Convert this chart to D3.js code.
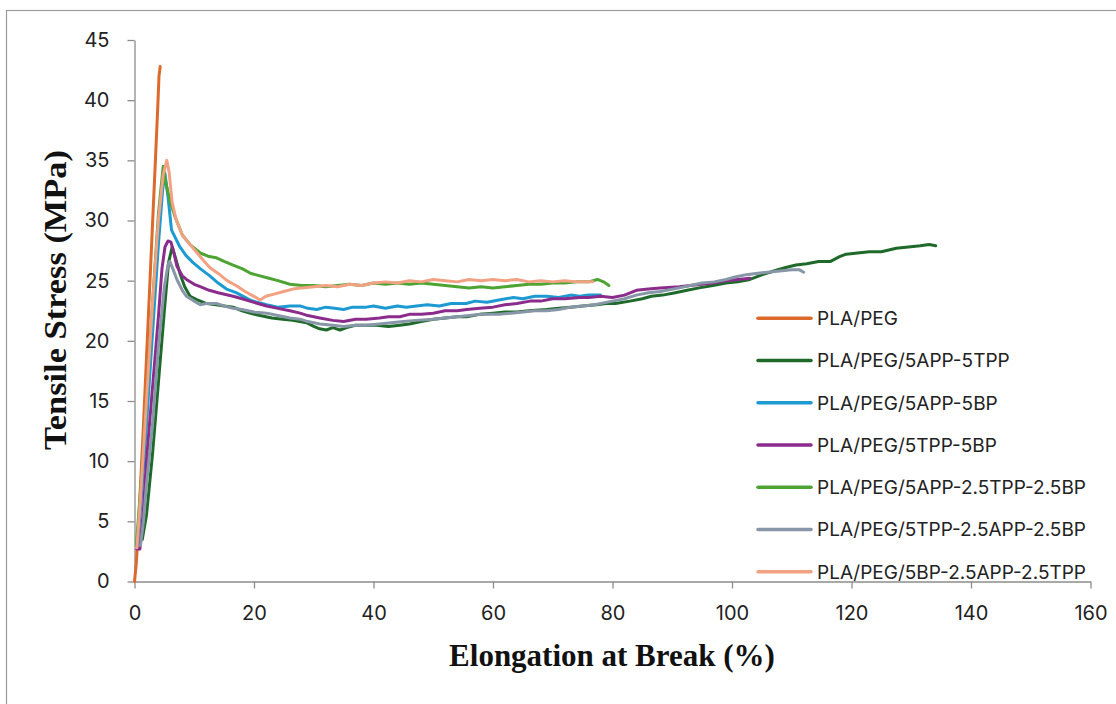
<!DOCTYPE html>
<html lang="en">
<head>
  <meta charset="UTF-8">
  <title>Tensile stress vs elongation</title>
  <script src="https://cdn.jsdelivr.net/npm/d3@7"></script>
  <style>
    html, body { margin: 0; padding: 0; background: #fff; }
    svg { display: block; }
  </style>
</head>
<body>
<div id="chart"></div>
<script>
  // series, [elongation %, stress MPa]
  const plaPeg = [[0,0],[0.3,1.5],[0.6,4],[1,8],[1.5,13],[2,18.5],[2.5,24],[3,29.5],[3.5,35],[3.9,39.5],[4.1,42],[4.3,42.8]]

  const app5Tpp5 = [[1.3,3.5],[2,5.5],[3,10.5],[4,16.5],[5,22.5],[5.7,26.5],[6.3,27.8],[6.8,27],[7.6,25.6],[8.4,24.5],[9.3,23.7],[10.5,23.4],[12.1,23.1],[13.7,23.0],[15,22.9],[16.5,22.8],[18,22.5],[19.3,22.3],[21,22.1],[23,21.9],[24.8,21.8],[26.5,21.7],[28.8,21.5],[30,21.2],[31,21.0],[32.1,20.9],[33.2,21.1],[34.4,20.9],[35.5,21.1],[37,21.3],[38.8,21.3],[40.5,21.3],[42.5,21.2],[44.4,21.3],[46,21.4],[48,21.6],[50,21.8],[52,21.9],[54,22.0],[55.6,22.0],[57.8,22.2],[60,22.3],[62,22.4],[64,22.4],[66,22.5],[69,22.6],[71,22.7],[73,22.8],[75,22.9],[77.3,23.0],[79,23.1],[80.5,23.1],[82.9,23.3],[85,23.5],[86.5,23.7],[88.4,23.8],[90.5,24.0],[92.5,24.2],[94.5,24.4],[96.8,24.6],[99,24.8],[101,24.9],[103,25.1],[105.1,25.5],[107,25.8],[109,26.1],[110.7,26.3],[112.5,26.4],[114.5,26.6],[116.5,26.6],[118,27.0],[119.1,27.2],[121,27.3],[123,27.4],[125,27.4],[127.5,27.7],[129.5,27.8],[131.5,27.9],[133,28.0],[134.1,27.9]]

  const app5Bp5 = [[0.5,3],[1,6],[2,13],[3,20.5],[4,28],[4.7,32.5],[5.1,33.9],[5.6,32],[6.2,29.2],[7.6,27.8],[8.6,27.1],[9.8,26.5],[11,26],[12.6,25.4],[14,24.8],[15.4,24.3],[17,24],[19.3,23.4],[20.5,23.2],[22.1,23.0],[24,22.8],[26,22.9],[27.7,22.9],[29,22.7],[30.5,22.6],[32,22.8],[33.5,22.7],[35,22.6],[36.5,22.8],[38.8,22.8],[40,22.9],[42,22.7],[44,22.9],[45.5,22.8],[47.2,22.9],[49,23.0],[51,22.9],[53,23.1],[55.5,23.1],[57,23.3],[59,23.2],[61,23.4],[63.4,23.6],[65,23.5],[67,23.7],[69,23.7],[71,23.6],[73,23.8],[74.5,23.7],[76,23.8],[78,23.8]]

  const tpp5Bp5 = [[0.4,2.7],[0.9,2.7],[1.5,6],[2,10],[3,16],[4,22],[4.6,26],[5.1,27.8],[5.6,28.3],[6.1,28.2],[6.6,27.3],[7.1,26.2],[8,25.4],[8.7,25.1],[10,24.7],[11,24.5],[12.5,24.2],[14,24],[16.5,23.7],[18,23.5],[20,23.2],[22.1,22.9],[24,22.7],[26,22.5],[27.7,22.3],[29,22.1],[31,21.9],[33.2,21.7],[35,21.6],[37,21.8],[38.8,21.8],[41,21.9],[42.5,22.0],[44.4,22.0],[46,22.2],[48,22.2],[50,22.3],[52,22.5],[54,22.5],[55.6,22.6],[57.8,22.7],[60,22.8],[62,23.0],[64,23.1],[66.2,23.3],[68,23.3],[70,23.5],[72,23.5],[74.5,23.6],[76,23.6],[78,23.7],[80,23.6],[82,23.8],[84,24.2],[86,24.3],[88,24.4],[91.2,24.5],[93,24.6],[95,24.7],[96.8,24.8],[99,25.0],[101,25.1],[103,25.2]]

  const app5Tpp25Bp25 = [[0.3,3],[1,7.5],[2,15],[3,23],[4,30.5],[4.8,34.5],[5.3,33],[6,31.5],[6.8,30.3],[8,28.8],[9.3,28],[11,27.3],[12.5,27],[13.7,26.9],[15,26.6],[16.5,26.3],[18,26],[19.5,25.6],[21,25.4],[22.5,25.2],[24,25],[26,24.7],[28,24.6],[30,24.6],[32,24.5],[34,24.6],[36,24.7],[38,24.6],[40,24.8],[42,24.7],[44,24.8],[46,24.7],[48,24.8],[50,24.7],[52,24.6],[54,24.5],[56,24.4],[58,24.5],[60,24.4],[62,24.5],[64,24.6],[66,24.7],[68,24.7],[70,24.8],[72,24.8],[74,24.9],[76,24.9],[77.5,25.1],[78.5,24.9],[79.4,24.6]]

  const tpp5App25Bp25 = [[1,3],[1.5,5],[2,8],[3,13],[4,19.5],[5,24.5],[5.6,26.3],[5.9,26.6],[6.4,26],[7.1,25.1],[8,24.2],[8.7,23.7],[10,23.3],[11,23.0],[12,23.1],[13.7,23.1],[15,22.9],[16.5,22.7],[18,22.6],[20,22.4],[22.1,22.3],[24,22.1],[26,21.9],[27.7,21.8],[29,21.6],[31,21.4],[33.2,21.3],[35,21.2],[37,21.3],[38.8,21.3],[41,21.4],[43,21.5],[45,21.6],[47,21.7],[50,21.8],[52,21.9],[54,22.0],[56,22.1],[58,22.2],[61,22.2],[63,22.3],[65,22.4],[67,22.5],[69,22.5],[71,22.6],[73,22.8],[75,22.9],[77,23.0],[80,23.3],[82,23.5],[84,23.8],[86,24.0],[88,24.1],[91.2,24.4],[93,24.6],[95,24.8],[97,24.9],[99,25.1],[100.5,25.3],[102.4,25.5],[104,25.6],[106,25.7],[108,25.8],[110,25.9],[111.3,25.9],[112,25.7]]

  const bp5App25Tpp25 = [[0.4,2.8],[1,7],[2,15],[3,23],[4,30],[4.8,33.8],[5.4,35],[5.8,34],[6.3,31.5],[7,30],[8,28.8],[9.3,28],[10.5,27.3],[11.5,26.7],[12.6,26.1],[14,25.6],[15.5,25],[17,24.6],[18.5,24.1],[20,23.7],[21,23.4],[22,23.7],[23.5,23.9],[25,24.1],[26.5,24.3],[28,24.4],[30,24.5],[32,24.6],[34,24.5],[36,24.7],[38,24.6],[40,24.8],[42,24.9],[44,24.8],[46,25.0],[48,24.9],[50,25.1],[52,25.0],[54,24.9],[56,25.1],[58,25.0],[60,25.1],[62,25.0],[64,25.1],[66,24.9],[68,25.0],[70,24.9],[72,25.0],[74,24.9],[76.7,24.9]]

  const seriesNames = ['PLA/PEG', 'PLA/PEG/5APP-5TPP', 'PLA/PEG/5APP-5BP', 'PLA/PEG/5TPP-5BP',
    'PLA/PEG/5APP-2.5TPP-2.5BP', 'PLA/PEG/5TPP-2.5APP-2.5BP', 'PLA/PEG/5BP-2.5APP-2.5TPP']
  const seriesData = [plaPeg, app5Tpp5, app5Bp5, tpp5Bp5, app5Tpp25Bp25, tpp5App25Bp25, bp5App25Tpp25]
  const seriesColors = ['#dd6a2c', '#1f6a2b', '#1d9ad2', '#8b2c8c', '#4ea433', '#8797a8', '#f2a183']

  const xTicks = [0, 20, 40, 60, 80, 100, 120, 140, 160]
  const yTicks = [0, 5, 10, 15, 20, 25, 30, 35, 40, 45]

  // layout
  const width = 1116
  const height = 704
  const plot = {left: 134.5, right: 1090.5, top: 40, bottom: 581.5}

  const svg = d3.select('#chart')
  .append('svg')
  .attr('width', width)
  .attr('height', height)

  // outer frame (runs off the right and bottom of the picture)
  svg.append('rect')
  .attr('x', 6.5)
  .attr('y', 10.5)
  .attr('width', width + 20)
  .attr('height', height + 20)
  .attr('fill', 'none')
  .attr('stroke', '#9a9a9a')
  .attr('stroke-width', 1.2)

  const x = d3.scaleLinear().domain([0, 160]).range([plot.left, plot.right])
  const y = d3.scaleLinear().domain([0, 45]).range([plot.bottom, plot.top])

  const axisColor = '#8c8c8c'
  const tickFont = 'Inter, "Liberation Sans", Arial, sans-serif'

  svg.append('g')
  .attr('transform', `translate(0,${plot.bottom})`)
  .call(d3.axisBottom(x).tickValues(xTicks).tickSize(7).tickPadding(17).tickSizeOuter(0))
  .call(g => g.select('.domain').attr('stroke', axisColor).attr('stroke-width', 1.3))
  .call(g => g.selectAll('.tick line').attr('stroke', axisColor).attr('stroke-width', 1.3))
  .call(g => g.selectAll('.tick text')
    .attr('fill', '#222')
    .style('font-family', tickFont)
    .style('font-size', '20px'))

  svg.append('g')
  .attr('transform', `translate(${plot.left},0)`)
  .call(d3.axisLeft(y).tickValues(yTicks).tickSize(7).tickPadding(18).tickSizeOuter(0))
  .call(g => g.select('.domain').attr('stroke', axisColor).attr('stroke-width', 1.3))
  .call(g => g.selectAll('.tick line').attr('stroke', axisColor).attr('stroke-width', 1.3))
  .call(g => g.selectAll('.tick text')
    .attr('fill', '#222')
    .style('font-family', tickFont)
    .style('font-size', '20px'))

  // axis titles
  const titleFont = '"Liberation Serif", "Times New Roman", serif'
  svg.append('text')
  .attr('x', 612)
  .attr('y', 666)
  .attr('text-anchor', 'middle')
  .style('font-family', titleFont)
  .style('font-weight', 'bold')
  .style('font-size', '31px')
  .attr('fill', '#111')
  .text('Elongation at Break (%)')

  svg.append('text')
  .attr('transform', 'translate(66,300) rotate(-90)')
  .attr('text-anchor', 'middle')
  .style('font-family', titleFont)
  .style('font-weight', 'bold')
  .style('font-size', '31px')
  .attr('textLength', 300)
  .attr('lengthAdjust', 'spacingAndGlyphs')
  .attr('fill', '#111')
  .text('Tensile Stress (MPa)')

  // curves
  const line = d3.line()
  .x(d => x(d[0]))
  .y(d => y(d[1]))

  svg.append('g')
  .attr('fill', 'none')
  .attr('stroke-width', 3)
  .attr('stroke-linejoin', 'round')
  .attr('stroke-linecap', 'round')
  .selectAll('path')
  .data(seriesData)
  .join('path')
  .attr('stroke', (d, i) => seriesColors[i])
  .attr('d', line)

  // legend
  const legendRow = d3.scaleLinear().domain([0, 6]).range([318.3, 571.7])
  const legend = svg.append('g')
  .selectAll('g')
  .data(seriesNames)
  .join('g')
  .attr('transform', (d, i) => `translate(758,${legendRow(i)})`)

  legend.append('line')
  .attr('x1', 0)
  .attr('x2', 53)
  .attr('stroke', (d, i) => seriesColors[i])
  .attr('stroke-width', 3.5)
  .attr('stroke-linecap', 'round')

  legend.append('text')
  .attr('x', 59)
  .attr('dy', '0.36em')
  .attr('fill', '#222')
  .style('font-family', tickFont)
  .style('font-size', '19px')
  .text(d => d)
</script>
</body>
</html>
